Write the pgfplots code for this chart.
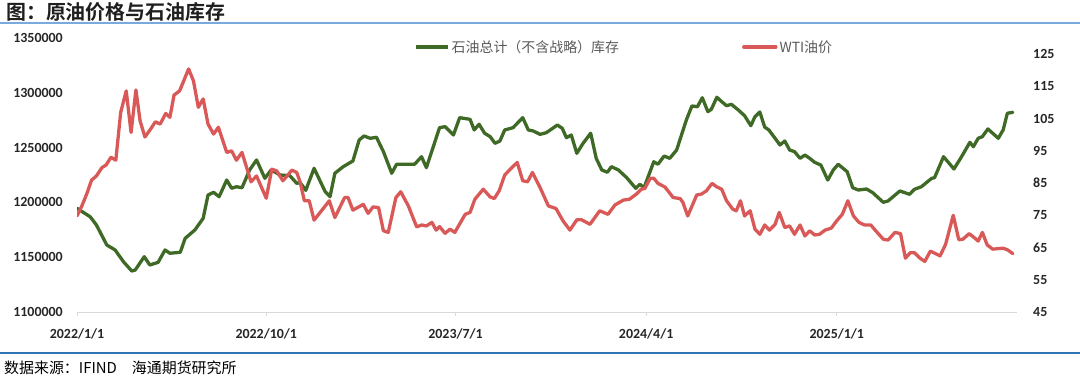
\documentclass[border=0pt]{standalone}
\usepackage{pgfplots}
\pgfplotsset{compat=1.18}
\usepackage{pgfplotstable}
\usepackage{fontspec}
\setmainfont{Carlito}
\newfontfamily\cjk{Noto Sans CJK SC}[BoldFont={Noto Sans CJK SC Bold}]

\definecolor{invgreen}{RGB}{62,106,38}
\definecolor{wtired}{RGB}{217,89,89}
\definecolor{axisgray}{RGB}{217,217,217}
\definecolor{ticktext}{RGB}{38,38,38}
\definecolor{legtext}{RGB}{89,89,89}
\definecolor{titleline}{RGB}{120,170,220}
\definecolor{footline}{RGB}{46,117,182}

% day = days since 2022-01-01
\pgfplotstableread{
day inv
0 1194600
19 1186900
28 1179400
43 1161100
55 1156600
67 1145900
79 1137400
84 1138300
97 1150500
105 1142900
117 1145300
127 1156600
134 1153600
149 1154500
156 1167200
170 1174800
182 1185500
189 1206700
197 1209200
205 1205200
216 1220400
223 1212900
230 1214300
238 1213400
249 1229600
259 1238700
271 1222000
280 1229600
293 1225000
307 1224400
317 1217400
322 1218000
330 1211000
342 1231100
358 1209800
365 1205200
372 1226600
384 1232600
398 1237800
407 1256900
414 1260600
423 1258500
432 1259400
442 1246300
454 1226600
461 1234800
487 1234800
497 1241700
504 1231700
523 1268200
531 1269100
543 1261500
552 1277300
567 1275800
573 1266100
580 1271300
588 1263100
596 1260000
603 1253900
610 1256000
617 1266100
629 1268200
643 1277300
651 1266100
658 1265200
668 1262100
677 1263600
693 1270600
700 1267600
706 1259000
713 1261500
721 1244800
730 1253900
741 1263100
749 1240200
757 1229600
765 1227500
771 1232600
781 1229600
793 1222500
806 1212900
812 1216500
818 1213400
832 1237100
838 1234800
847 1242300
855 1240200
865 1247800
879 1275200
887 1288000
895 1287300
902 1295500
910 1282800
915 1284900
923 1295900
930 1291900
937 1288200
944 1289500
954 1284300
963 1279100
972 1270000
978 1278200
985 1282500
992 1268700
998 1266100
1007 1258500
1014 1252400
1021 1256000
1028 1247800
1035 1246300
1043 1240200
1050 1243200
1057 1240200
1064 1236600
1073 1234100
1083 1220400
1091 1229600
1098 1234800
1111 1228000
1119 1213400
1127 1211300
1139 1212200
1148 1208800
1163 1200100
1170 1201300
1187 1210400
1201 1207400
1208 1211900
1218 1214300
1233 1222000
1237 1222500
1250 1241700
1265 1230500
1276 1241700
1288 1254800
1293 1250800
1300 1258500
1306 1260000
1314 1267000
1329 1258500
1336 1266100
1342 1281300
1350 1282200
}\invtable

\pgfplotstableread{
day wti
0 74.8
7 77.9
14 81.6
21 85.9
28 87.2
36 89.8
42 90.6
49 93.0
56 92.1
63 106.9
71 113.6
78 100.7
85 113.9
91 104.3
98 99.3
106 101.7
113 104.0
120 103.3
128 106.6
134 105.4
140 112.3
148 113.6
161 120.4
168 116.7
175 108.5
182 111.1
189 103.3
197 100.2
204 102.3
216 94.5
223 95.0
230 92.1
238 94.5
251 85.4
259 87.2
273 80.3
281 89.3
288 88.8
297 85.7
310 89.0
317 88.3
322 85.2
328 79.5
335 79.5
342 73.5
364 79.5
372 74.3
386 80.5
391 80.5
398 76.6
413 78.4
420 75.6
427 77.6
435 77.4
442 70.2
449 69.7
460 80.5
467 82.3
478 77.9
490 71.4
497 72.0
504 71.7
512 72.8
518 70.4
523 71.5
531 69.4
538 70.7
545 69.7
560 75.3
567 75.9
574 80.0
586 83.1
596 80.7
602 80.2
609 82.6
617 87.5
625 89.3
635 91.4
643 85.7
650 85.4
657 88.3
668 83.6
680 77.9
691 77.1
701 73.3
711 70.4
721 73.6
728 73.6
740 72.2
754 76.4
766 75.3
776 78.2
788 79.7
797 80.0
807 81.6
814 83.1
819 83.3
827 86.5
832 86.5
838 84.9
848 83.8
860 80.5
870 80.2
874 79.0
881 74.8
894 81.3
901 81.6
908 82.6
916 84.9
923 83.8
930 83.1
937 79.5
946 76.9
951 76.4
957 79.5
963 74.8
971 76.4
978 70.7
985 69.1
992 72.0
999 70.4
1007 72.2
1013 75.9
1021 71.2
1028 71.7
1035 69.1
1043 72.0
1050 68.6
1057 70.2
1064 68.9
1071 69.1
1079 70.4
1088 71.0
1096 73.3
1104 75.3
1112 79.5
1120 74.8
1128 72.8
1136 72.0
1145 72.0
1153 70.0
1163 67.6
1170 67.3
1180 69.7
1188 69.3
1195 61.7
1202 63.4
1208 63.4
1216 61.7
1223 60.7
1231 63.9
1245 62.4
1253 66.0
1264 75.0
1272 67.4
1278 67.6
1287 69.3
1293 68.3
1300 67.0
1306 69.7
1313 65.8
1321 64.5
1336 64.8
1343 64.2
1350 63.1
}\wtitable

\begin{document}
\begin{tikzpicture}[x=1bp,y=1bp]
\useasboundingbox (0,0) rectangle (1080,381);
\node[anchor=west, inner sep=0pt, text=black!88, font=\cjk\bfseries\fontsize{20}{20}\selectfont] at (6,369) {图：原油价格与石油库存};
\draw[titleline, line width=1.2bp] (0,358) -- (1080,358);
\draw[footline, line width=2bp] (0,28) -- (1080,28);
\node[anchor=west, inner sep=0pt, text=black, font=\cjk\fontsize{15}{15}\selectfont] at (4,13) {数据来源：IFIND\quad 海通期货研究所};

\begin{axis}[
  at={(77bp,69bp)}, anchor=south west,
  scale only axis, width=940bp, height=274bp,
  xmin=0, xmax=1356, ymin=1100000, ymax=1350000,
  xtick={0,273,546,821,1096},
  xticklabels={2022/1/1,2022/10/1,2023/7/1,2024/4/1,2025/1/1},
  ytick={1100000,1150000,1200000,1250000,1300000,1350000},
  axis x line*=bottom, axis y line*=left,
  separate axis lines,
  x axis line style={axisgray, line width=1bp},
  y axis line style={draw=none},
  xtick style={axisgray, line width=1bp},
  ytick style={draw=none},
  tick align=outside, major tick length=4bp,
  scaled y ticks=false,
  /pgf/number format/assume math mode=true,
  yticklabel={\pgfmathprintnumber[fixed,1000 sep={}]{\tick}},
  tick label style={font=\bfseries\fontsize{14}{14}\selectfont, text=ticktext, inner sep=0pt},
  yticklabel style={anchor=east, xshift=-10bp},
  xticklabel style={anchor=north, yshift=-13bp},
]
\addplot[invgreen, line width=3.3bp, line join=round, line cap=round] table[x=day, y=inv] {\invtable};
\end{axis}

\begin{axis}[
  at={(77bp,69bp)}, anchor=south west,
  scale only axis, width=940bp, height=274bp,
  xmin=0, xmax=1356, ymin=45, ymax=130,
  ytick={45,55,65,75,85,95,105,115,125},
  axis x line=none, axis y line*=right,
  y axis line style={draw=none},
  ytick style={draw=none},
  tick align=outside, major tick length=4bp,
  /pgf/number format/assume math mode=true,
  tick label style={font=\bfseries\fontsize{14}{14}\selectfont, text=ticktext, inner sep=0pt},
  yticklabel style={anchor=west, xshift=12bp},
  legend style={at={(0.3585,0.967)}, anchor=west, draw=none, fill=none,
    font=\cjk\fontsize{14}{14}\selectfont, text=legtext, inner sep=0pt,
    /tikz/every even column/.append style={column sep=121bp}},
  legend columns=2,
  legend cell align=left,
  legend image code/.code={\draw[#1, line width=3.5bp] (0bp,0bp) -- (32bp,0bp);},
]
\addlegendimage{invgreen}
\addlegendentry{石油总计（不含战略）库存}
\addplot[wtired, line width=3.3bp, line join=round, line cap=round] table[x=day, y=wti] {\wtitable};
\addlegendentry{WTI油价}
\end{axis}
\end{tikzpicture}
\end{document}
